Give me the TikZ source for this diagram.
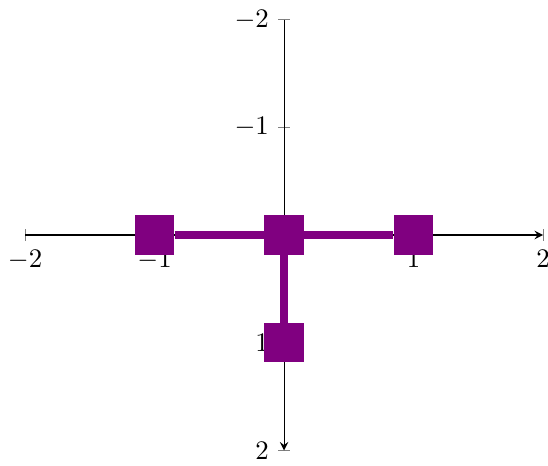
\documentclass[tikz,border=0pt]{standalone}
\usepackage{pgfplots}
\pgfplotsset{compat=1.18}
\usetikzlibrary{arrows.meta}
\definecolor{vertpurple}{RGB}{128,0,128}
\tikzset{
  % vertices and edges
  vert/.style = {rectangle, fill=vertpurple, minimum size=14.6pt, inner sep=0pt},
  edge/.style = {draw=vertpurple, line width=2.9pt},
}

\begin{document}
\begin{tikzpicture}
  \begin{axis}[
      width=193.3pt, height=160.8pt, scale only axis,
      axis lines=middle, y dir=reverse,
      xmin=-2, xmax=2, ymin=-2, ymax=2,
      xtick={-2,-1,1,2}, ytick={-2,-1,1,2},
    ]
    \coordinate (orig) at (axis cs:0,0);
    % vertices
    \node[vert] (vl) at (axis cs:-1,0) {};
    \node[vert] (vm) at (axis cs:0,0) {};
    \node[vert] (vr) at (axis cs:1,0) {};
    \node[vert] (vb) at (axis cs:0,1) {};
    % edges
    \draw[edge] (vl) -- (vm);
    \draw[edge] (vm) -- (vr);
    \draw[edge] (vm) -- (vb);
  \end{axis}
  \pgfresetboundingbox
  \path[use as bounding box, shift={(orig)}] (-106pt,-86.2pt) rectangle (98.5pt,87.7pt);
\end{tikzpicture}
\end{document}
